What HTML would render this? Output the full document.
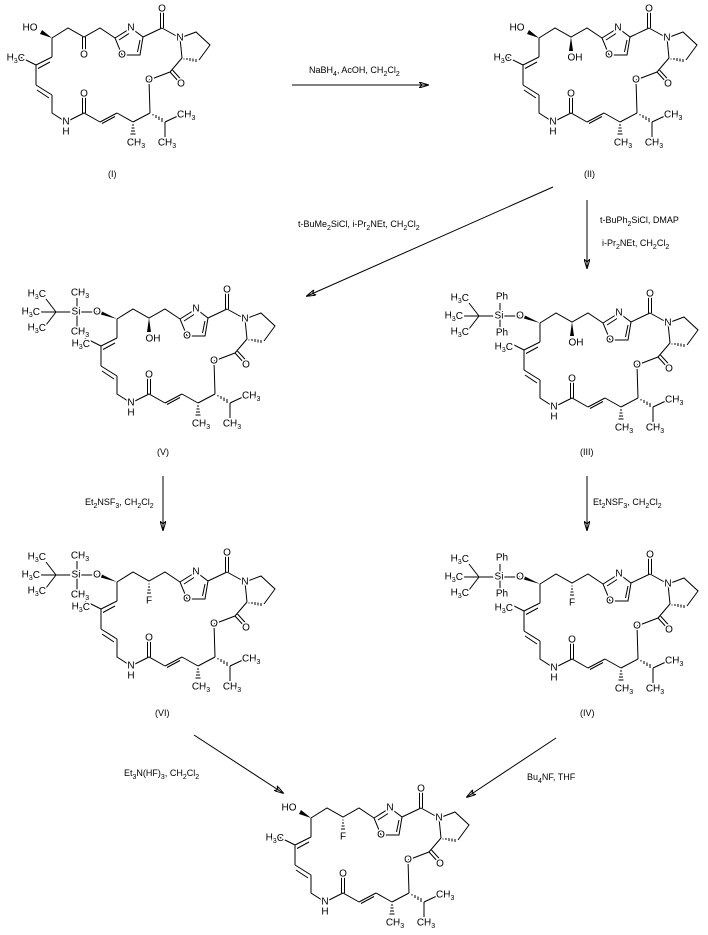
<!DOCTYPE html>
<html><head><meta charset="utf-8"><style>
html,body{margin:0;padding:0;background:#fff;}
svg{display:block;}
text{font-family:"Liberation Sans",sans-serif;font-size:10px;fill:#000;}
.a{text-anchor:middle;dominant-baseline:central;paint-order:stroke;stroke:#fff;stroke-width:3px;}
.e{text-anchor:end;dominant-baseline:central;paint-order:stroke;stroke:#fff;stroke-width:3px;}
.st{text-anchor:start;dominant-baseline:central;paint-order:stroke;stroke:#fff;stroke-width:3px;}
.r{font-size:9px;}
.s{font-size:7px;}
line,path,polyline{stroke:#000;stroke-width:1;fill:none;}
</style></head><body>
<svg width="708" height="935" viewBox="0 0 708 935" xmlns="http://www.w3.org/2000/svg">
<defs>
<marker id="ah" markerWidth="10" markerHeight="6" refX="9" refY="3" orient="auto" markerUnits="userSpaceOnUse">
<path d="M0,0 L10,3 L0,6 L3,3 Z" fill="#000" stroke="none"/></marker>
<g id="sk">
<polyline points="52,38 68,28 84,37 100,28 115,38"/>
<polygon points="115,38 131,28 143,37 140,55 122,55" fill="none" stroke="#000"/>
<line x1="119" y1="40" x2="129" y2="33.5"/>
<line x1="140" y1="40" x2="137.5" y2="52"/>
<line x1="143" y1="37" x2="162" y2="28"/>
<line x1="160.5" y1="28" x2="160.5" y2="10"/><line x1="163.5" y1="28" x2="163.5" y2="10"/>
<line x1="162" y1="28" x2="180" y2="38"/>
<polyline points="180,38 196,32 210,45 199,60"/>
<line x1="180" y1="38" x2="182" y2="58"/>
<path d="M184,58.5v1 M187,58v2 M190,58v3 M193,58.5v3 M196,59v3"/>
<line x1="182" y1="58" x2="170" y2="72"/>
<line x1="170" y1="72" x2="180" y2="83"/><line x1="172.5" y1="70" x2="182" y2="80.5"/>
<line x1="170" y1="72" x2="149" y2="80"/>
<line x1="149" y1="80" x2="150" y2="113"/>
<path d="M153,114v1.5 M156,115v3 M159,116.5v3.5 M162,118v4"/>
<line x1="165" y1="122" x2="180" y2="115"/>
<line x1="165" y1="122" x2="165" y2="138"/>
<line x1="150" y1="113" x2="133" y2="122"/>
<path d="M132,125h2 M131.5,128h3 M131,131h4 M130.5,134h5"/>
<line x1="133" y1="122" x2="117" y2="113"/>
<line x1="117" y1="113" x2="100" y2="122"/><line x1="115" y1="116.5" x2="102" y2="123.5"/>
<polyline points="100,122 84,113 66,122 52,113 52,95"/>
<line x1="82.5" y1="113" x2="82.5" y2="95"/><line x1="85.5" y1="113" x2="85.5" y2="95"/>
<line x1="52" y1="95" x2="36" y2="85"/><line x1="49" y1="98" x2="37" y2="90"/>
<line x1="36" y1="85" x2="36" y2="65"/>
<line x1="36" y1="65" x2="20" y2="57"/>
<line x1="36" y1="65" x2="52" y2="57"/><line x1="38" y1="68.5" x2="50" y2="62"/>
<line x1="52" y1="57" x2="52" y2="38"/>
</g>
<g id="tx">
<text class="a" x="131" y="28">N</text><text class="a" x="122" y="55">O</text>
<text class="a" x="162" y="9">O</text><text class="a" x="180" y="38">N</text>
<text class="a" x="181" y="84">O</text><text class="a" x="149" y="80">O</text>
<text class="a" x="84" y="94">O</text><text class="a" x="66" y="122">N</text>
<text class="a" x="66" y="132">H</text>
</g>
<g id="ho"><polygon points="52,38 42,30 40,34" fill="#000" stroke="none"/></g>
<g id="tbs">
<polygon points="52,38 35,29.5 34,33" fill="#000" stroke="none"/>
<line x1="32" y1="31" x2="10" y2="31"/><line x1="10" y1="31" x2="-9" y2="31"/>
<line x1="-9" y1="31" x2="-19" y2="18"/><line x1="-9" y1="31" x2="-24" y2="31"/><line x1="-9" y1="31" x2="-19" y2="44"/>
</g>
<g id="sime"><line x1="12" y1="31" x2="12" y2="17"/><line x1="12" y1="31" x2="12" y2="46"/></g>
<g id="siph"><line x1="12" y1="31" x2="12" y2="18"/><line x1="12" y1="31" x2="12" y2="43"/></g>
<g id="ohw"><polygon points="84,37 82,51 86,51" fill="#000" stroke="none"/></g>
<g id="fh"><path d="M83.5,40h1 M83,43h2 M82.5,46h3 M82,49h4"/></g>
<g id="ket"><line x1="82.5" y1="37" x2="82.5" y2="51"/><line x1="85.5" y1="37" x2="85.5" y2="51"/></g>
</defs>

<!-- Molecule I -->
<g transform="translate(0,0)">
<use href="#sk"/><use href="#ho"/><use href="#ket"/><use href="#tx"/>
<text class="a" x="30" y="28">HO</text><text class="a" x="84" y="55">O</text>
<text class="e" x="25" y="58">H<tspan class="s" dy="3">3</tspan><tspan dy="-3">C</tspan></text>
<text class="st" x="177" y="115">CH<tspan class="s" dy="3">3</tspan></text>
<text class="a" x="167" y="143">CH<tspan class="s" dy="3">3</tspan></text>
<text class="a" x="136" y="143">CH<tspan class="s" dy="3">3</tspan></text>
</g>
<text class="r" x="108" y="177">(I)</text>

<!-- Molecule II -->
<g transform="translate(487,0)">
<use href="#sk"/><use href="#ho"/><use href="#ohw"/><use href="#tx"/>
<text class="a" x="30" y="28">HO</text><text class="a" x="88" y="58">OH</text>
<text class="e" x="25" y="58">H<tspan class="s" dy="3">3</tspan><tspan dy="-3">C</tspan></text>
<text class="st" x="177" y="115">CH<tspan class="s" dy="3">3</tspan></text>
<text class="a" x="167" y="143">CH<tspan class="s" dy="3">3</tspan></text>
<text class="a" x="136" y="143">CH<tspan class="s" dy="3">3</tspan></text>
</g>
<text class="r" x="584" y="177">(II)</text>

<!-- Molecule V -->
<g transform="translate(65,281)">
<use href="#sk"/><use href="#tbs"/><use href="#sime"/><use href="#ohw"/><use href="#tx"/>
<text class="a" x="32" y="31">O</text><text class="a" x="11" y="31">Si</text>
<text class="a" x="15" y="12">CH<tspan class="s" dy="3">3</tspan></text>
<text class="a" x="15" y="51">CH<tspan class="s" dy="3">3</tspan></text>
<text class="e" x="-19" y="13">H<tspan class="s" dy="3">3</tspan><tspan dy="-3">C</tspan></text>
<text class="e" x="-25" y="31">H<tspan class="s" dy="3">3</tspan><tspan dy="-3">C</tspan></text>
<text class="e" x="-19" y="47">H<tspan class="s" dy="3">3</tspan><tspan dy="-3">C</tspan></text>
<text class="a" x="88" y="58">OH</text>
<text class="e" x="25" y="63">H<tspan class="s" dy="3">3</tspan><tspan dy="-3">C</tspan></text>
<text class="st" x="177" y="115">CH<tspan class="s" dy="3">3</tspan></text>
<text class="a" x="167" y="143">CH<tspan class="s" dy="3">3</tspan></text>
<text class="a" x="136" y="143">CH<tspan class="s" dy="3">3</tspan></text>
</g>
<text class="r" x="157" y="455">(V)</text>

<!-- Molecule III -->
<g transform="translate(488,285)">
<use href="#sk"/><use href="#tbs"/><use href="#siph"/><use href="#ohw"/><use href="#tx"/>
<text class="a" x="32" y="31">O</text><text class="a" x="11" y="31">Si</text>
<text class="a" x="14" y="12">Ph</text>
<text class="a" x="14" y="48">Ph</text>
<text class="e" x="-19" y="13">H<tspan class="s" dy="3">3</tspan><tspan dy="-3">C</tspan></text>
<text class="e" x="-25" y="31">H<tspan class="s" dy="3">3</tspan><tspan dy="-3">C</tspan></text>
<text class="e" x="-19" y="47">H<tspan class="s" dy="3">3</tspan><tspan dy="-3">C</tspan></text>
<text class="a" x="88" y="58">OH</text>
<text class="e" x="25" y="62">H<tspan class="s" dy="3">3</tspan><tspan dy="-3">C</tspan></text>
<text class="st" x="177" y="115">CH<tspan class="s" dy="3">3</tspan></text>
<text class="a" x="167" y="143">CH<tspan class="s" dy="3">3</tspan></text>
<text class="a" x="136" y="143">CH<tspan class="s" dy="3">3</tspan></text>
</g>
<text class="r" x="580" y="455">(III)</text>

<!-- Molecule VI -->
<g transform="translate(65,544)">
<use href="#sk"/><use href="#tbs"/><use href="#sime"/><use href="#fh"/><use href="#tx"/>
<text class="a" x="32" y="31">O</text><text class="a" x="11" y="31">Si</text>
<text class="a" x="15" y="12">CH<tspan class="s" dy="3">3</tspan></text>
<text class="a" x="15" y="51">CH<tspan class="s" dy="3">3</tspan></text>
<text class="e" x="-19" y="13">H<tspan class="s" dy="3">3</tspan><tspan dy="-3">C</tspan></text>
<text class="e" x="-25" y="31">H<tspan class="s" dy="3">3</tspan><tspan dy="-3">C</tspan></text>
<text class="e" x="-19" y="47">H<tspan class="s" dy="3">3</tspan><tspan dy="-3">C</tspan></text>
<text class="a" x="84" y="57">F</text>
<text class="e" x="25" y="63">H<tspan class="s" dy="3">3</tspan><tspan dy="-3">C</tspan></text>
<text class="st" x="177" y="115">CH<tspan class="s" dy="3">3</tspan></text>
<text class="a" x="167" y="143">CH<tspan class="s" dy="3">3</tspan></text>
<text class="a" x="136" y="143">CH<tspan class="s" dy="3">3</tspan></text>
</g>
<text class="r" x="155" y="716">(VI)</text>

<!-- Molecule IV -->
<g transform="translate(488,546)">
<use href="#sk"/><use href="#tbs"/><use href="#siph"/><use href="#fh"/><use href="#tx"/>
<text class="a" x="32" y="31">O</text><text class="a" x="11" y="31">Si</text>
<text class="a" x="14" y="12">Ph</text>
<text class="a" x="14" y="48">Ph</text>
<text class="e" x="-19" y="13">H<tspan class="s" dy="3">3</tspan><tspan dy="-3">C</tspan></text>
<text class="e" x="-25" y="31">H<tspan class="s" dy="3">3</tspan><tspan dy="-3">C</tspan></text>
<text class="e" x="-19" y="47">H<tspan class="s" dy="3">3</tspan><tspan dy="-3">C</tspan></text>
<text class="a" x="84" y="57">F</text>
<text class="e" x="25" y="62">H<tspan class="s" dy="3">3</tspan><tspan dy="-3">C</tspan></text>
<text class="st" x="177" y="115">CH<tspan class="s" dy="3">3</tspan></text>
<text class="a" x="167" y="143">CH<tspan class="s" dy="3">3</tspan></text>
<text class="a" x="136" y="143">CH<tspan class="s" dy="3">3</tspan></text>
</g>
<text class="r" x="580" y="716">(IV)</text>

<!-- Final -->
<g transform="translate(259,780)">
<use href="#sk"/><use href="#ho"/><use href="#fh"/><use href="#tx"/>
<text class="a" x="30" y="28">HO</text><text class="a" x="84" y="57">F</text>
<text class="e" x="25" y="58">H<tspan class="s" dy="3">3</tspan><tspan dy="-3">C</tspan></text>
<text class="st" x="177" y="115">CH<tspan class="s" dy="3">3</tspan></text>
<text class="a" x="167" y="143">CH<tspan class="s" dy="3">3</tspan></text>
<text class="a" x="136" y="143">CH<tspan class="s" dy="3">3</tspan></text>
</g>

<!-- Arrows -->
<line x1="292" y1="85" x2="428" y2="85" marker-end="url(#ah)"/>
<line x1="553" y1="187" x2="307" y2="296" marker-end="url(#ah)"/>
<line x1="587" y1="200" x2="587" y2="268" marker-end="url(#ah)"/>
<line x1="163" y1="476" x2="163" y2="530" marker-end="url(#ah)"/>
<line x1="587" y1="476" x2="587" y2="530" marker-end="url(#ah)"/>
<line x1="194" y1="735" x2="283" y2="793" marker-end="url(#ah)"/>
<line x1="556" y1="738" x2="467" y2="797" marker-end="url(#ah)"/>

<!-- Reagents -->
<text class="r" x="309" y="73">NaBH<tspan class="s" dy="3">4</tspan><tspan dy="-3">, AcOH, CH</tspan><tspan class="s" dy="3">2</tspan><tspan dy="-3">Cl</tspan><tspan class="s" dy="3">2</tspan></text>
<text class="r" x="298" y="227">t-BuMe<tspan class="s" dy="3">2</tspan><tspan dy="-3">SiCl, i-Pr</tspan><tspan class="s" dy="3">2</tspan><tspan dy="-3">NEt, CH</tspan><tspan class="s" dy="3">2</tspan><tspan dy="-3">Cl</tspan><tspan class="s" dy="3">2</tspan></text>
<text class="r" x="600" y="223">t-BuPh<tspan class="s" dy="3">2</tspan><tspan dy="-3">SiCl, DMAP</tspan></text>
<text class="r" x="602" y="246">i-Pr<tspan class="s" dy="3">2</tspan><tspan dy="-3">NEt, CH</tspan><tspan class="s" dy="3">2</tspan><tspan dy="-3">Cl</tspan><tspan class="s" dy="3">2</tspan></text>
<text class="r" x="85" y="505">Et<tspan class="s" dy="3">2</tspan><tspan dy="-3">NSF</tspan><tspan class="s" dy="3">3</tspan><tspan dy="-3">, CH</tspan><tspan class="s" dy="3">2</tspan><tspan dy="-3">Cl</tspan><tspan class="s" dy="3">2</tspan></text>
<text class="r" x="593" y="505">Et<tspan class="s" dy="3">2</tspan><tspan dy="-3">NSF</tspan><tspan class="s" dy="3">3</tspan><tspan dy="-3">, CH</tspan><tspan class="s" dy="3">2</tspan><tspan dy="-3">Cl</tspan><tspan class="s" dy="3">2</tspan></text>
<text class="r" x="124" y="776">Et<tspan class="s" dy="3">3</tspan><tspan dy="-3">N(HF)</tspan><tspan class="s" dy="3">3</tspan><tspan dy="-3">, CH</tspan><tspan class="s" dy="3">2</tspan><tspan dy="-3">Cl</tspan><tspan class="s" dy="3">2</tspan></text>
<text class="r" x="527" y="780">Bu<tspan class="s" dy="3">4</tspan><tspan dy="-3">NF, THF</tspan></text>
</svg>
</body></html>
